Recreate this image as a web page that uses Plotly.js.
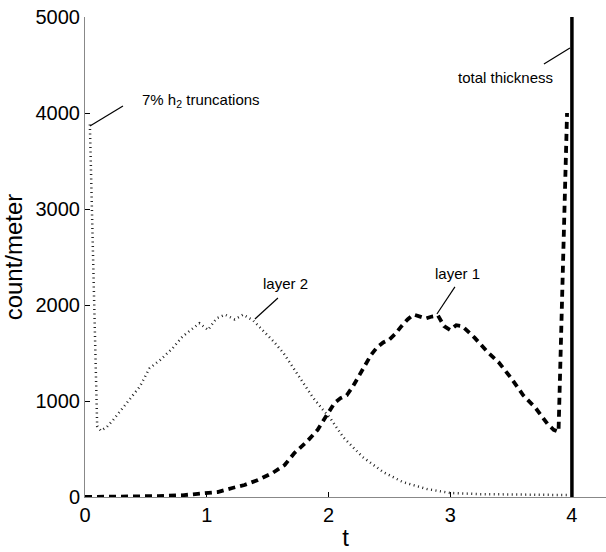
<!DOCTYPE html>
<html>
<head>
<meta charset="utf-8">
<script src="https://cdn.plot.ly/plotly-3.0.1.min.js"></script>
<style>html,body{margin:0;padding:0;background:#fff;}#chart{width:606px;height:552px;}</style>
</head>
<body>
<div id="chart"></div>
<script>
// layer 1 (dashed)
const layer1T = [0, 0.2, 0.4, 0.6, 0.8, 0.9, 0.99, 1.09, 1.21, 1.31, 1.42, 1.54, 1.64, 1.72, 1.82, 1.91, 2.0, 2.05, 2.1, 2.15, 2.2, 2.25, 2.3, 2.35, 2.4, 2.45, 2.5, 2.55, 2.6, 2.65, 2.7, 2.75, 2.8, 2.85, 2.9, 2.95, 3.0, 3.05, 3.1, 3.15, 3.2, 3.3, 3.4, 3.5, 3.6, 3.7, 3.8, 3.85, 3.89, 3.96];
const layer1Y = [0, 2, 5, 10, 18, 28, 42, 52, 94, 125, 177, 250, 333, 458, 573, 698, 880, 980, 1030, 1060, 1150, 1260, 1370, 1480, 1560, 1610, 1640, 1700, 1780, 1850, 1900, 1880, 1860, 1880, 1890, 1780, 1740, 1790, 1780, 1720, 1660, 1520, 1400, 1240, 1060, 930, 760, 700, 680, 4000];
// layer 2 (dotted)
const layer2T = [0.04, 0.1, 0.13, 0.18, 0.23, 0.34, 0.45, 0.53, 0.62, 0.72, 0.80, 0.94, 1.01, 1.08, 1.15, 1.23, 1.30, 1.38, 1.46, 1.55, 1.63, 1.71, 1.79, 1.87, 1.96, 2.01, 2.12, 2.28, 2.45, 2.61, 2.81, 3.0, 3.24, 3.6, 3.97];
const layer2Y = [3880, 740, 690, 730, 800, 980, 1150, 1340, 1430, 1550, 1670, 1810, 1740, 1860, 1900, 1850, 1900, 1840, 1740, 1620, 1500, 1350, 1190, 1040, 900, 830, 625, 417, 260, 156, 83, 42, 30, 24, 20];
// total thickness (solid)
const totalT = [4, 4];
const totalY = [0, 5000];

const xTicks = [0, 1, 2, 3, 4];
const yTicks = [0, 1000, 2000, 3000, 4000, 5000];

const labels = [
  {text: '7% h<sub>2</sub> truncations', x: 0.452, y: 4135, xanchor: 'left', from: [0.041, 3865], to: [0.312, 4073]},
  {text: 'total thickness', x: 3.458, y: 4375, xanchor: 'center', from: [3.77, 4510], to: [3.984, 4677]},
  {text: 'layer 2', x: 1.651, y: 2229, xanchor: 'center', from: [1.396, 1854], to: [1.585, 2073]},
  {text: 'layer 1', x: 3.064, y: 2333, xanchor: 'center', from: [2.891, 1906], to: [3.039, 2188]}
];

const FONT = 'Liberation Sans, Arial, Helvetica, sans-serif';

const traces = [
  {x: layer2T, y: layer2Y, mode: 'lines', line: {color: '#222', width: 2.5, dash: '1px,3.5px'}, hoverinfo: 'skip'},
  {x: layer1T, y: layer1Y, mode: 'lines', line: {color: '#000', width: 3.8, dash: '7px,5px'}, hoverinfo: 'skip'},
  {x: totalT, y: totalY, mode: 'lines', line: {color: '#000', width: 3.5}, hoverinfo: 'skip'}
];

const layout = {
  width: 606, height: 552,
  margin: {l: 85, r: 0, t: 17, b: 55},
  paper_bgcolor: '#fff', plot_bgcolor: '#fff',
  showlegend: false,
  xaxis: {
    range: [0, 4.28], tickvals: xTicks, ticktext: xTicks.map(String),
    ticks: 'inside', ticklen: 5, tickcolor: '#000', tickwidth: 1,
    showline: true, linecolor: '#888', linewidth: 1, showgrid: false, zeroline: false,
    tickfont: {family: FONT, size: 20, color: '#000'},
    title: {text: 't', font: {family: FONT, size: 24, color: '#000'}, standoff: 4}
  },
  yaxis: {
    range: [0, 5000], tickvals: yTicks, ticktext: yTicks.map(String),
    ticks: 'inside', ticklen: 5, tickcolor: '#000', tickwidth: 1,
    showline: true, linecolor: '#888', linewidth: 1, showgrid: false, zeroline: false,
    tickfont: {family: FONT, size: 20, color: '#000'},
    title: {text: 'count/meter', font: {family: FONT, size: 24, color: '#000'}, standoff: 6}
  },
  shapes: labels.map(l => ({type: 'line', xref: 'x', yref: 'y', x0: l.from[0], y0: l.from[1], x1: l.to[0], y1: l.to[1], line: {color: '#000', width: 1.2}})),
  annotations: labels.map(l => ({text: l.text, x: l.x, y: l.y, xref: 'x', yref: 'y', xanchor: l.xanchor, yanchor: 'middle', showarrow: false, font: {family: FONT, size: 15, color: '#000'}}))
};

Plotly.newPlot('chart', traces, layout, {staticPlot: true, displayModeBar: false});
</script>
</body>
</html>
